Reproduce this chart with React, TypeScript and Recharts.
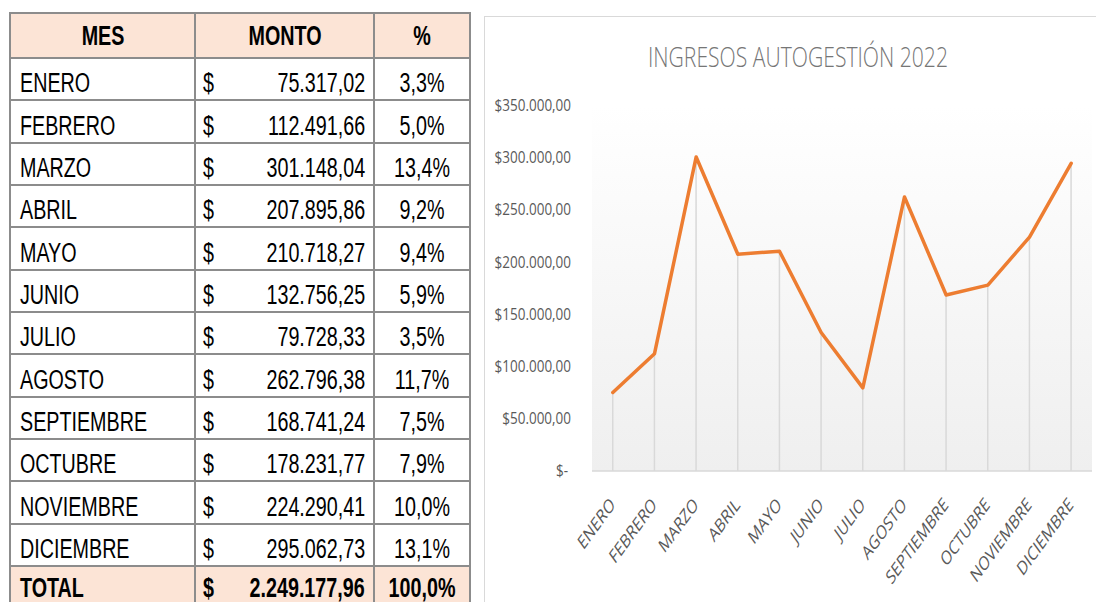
import React from 'react';
import { ComposedChart, Line, Bar, XAxis, YAxis, CartesianGrid } from 'recharts';

const MESES = ['ENERO', 'FEBRERO', 'MARZO', 'ABRIL', 'MAYO', 'JUNIO', 'JULIO', 'AGOSTO', 'SEPTIEMBRE', 'OCTUBRE', 'NOVIEMBRE', 'DICIEMBRE'];
const MONTOS = [75317.02, 112491.66, 301148.04, 207895.86, 210718.27, 132756.25, 79728.33, 262796.38, 168741.24, 178231.77, 224290.41, 295062.73];
const PORCENTAJES = ['3,3%', '5,0%', '13,4%', '9,2%', '9,4%', '5,9%', '3,5%', '11,7%', '7,5%', '7,9%', '10,0%', '13,1%'];
const TOTAL_MONTO = 2249177.96;
const TOTAL_PCT = '100,0%';
const Y_TICKS = [0, 50000, 100000, 150000, 200000, 250000, 300000, 350000];
const HEADERS = ['MES', 'MONTO', '%'];
const TITLE = 'INGRESOS AUTOGESTIÓN 2022';

const fmt = (n: number) => {
  const [i, d] = n.toFixed(2).split('.');
  return i.replace(/\B(?=(\d{3})+(?!\d))/g, '.') + ',' + d;
};

const data = MESES.map((mes, i) => ({ mes, monto: MONTOS[i] }));

const BORDER = '#8c8c8c';
const PEACH = '#fce4d6';
const TFONT = "'Liberation Sans', Arial, sans-serif";
const CFONT = "'Open Sans', sans-serif";
const SX = 0.73;

const cellBase: React.CSSProperties = {
  position: 'relative',
  background: '#fff',
  fontFamily: TFONT,
  fontSize: 27,
  color: '#000',
  whiteSpace: 'nowrap',
  overflow: 'hidden',
};

function Txt({ align, children, off = 0, pad = 0 }: { align: 'left' | 'right' | 'center'; children: React.ReactNode; off?: number; pad?: number }) {
  const s: React.CSSProperties = { position: 'absolute', top: `calc(50% + ${off}px)`, lineHeight: 0.8 };
  if (align === 'left') {
    s.left = pad;
    s.transformOrigin = 'left center';
    s.transform = `translateY(-50%) scaleX(${SX})`;
  } else if (align === 'right') {
    s.right = pad;
    s.transformOrigin = 'right center';
    s.transform = `translateY(-50%) scaleX(${SX})`;
  } else {
    s.left = '50%';
    s.transformOrigin = 'center center';
    s.transform = `translate(-50%,-50%) scaleX(${SX})`;
  }
  return <span style={s}>{children}</span>;
}

function Row({ mes, monto, pct, bold, bg, off = 5 }: { mes: string; monto: number; pct: string; bold?: boolean; bg?: string; off?: number }) {
  const extra: React.CSSProperties = { fontWeight: bold ? 700 : 400, background: bg || '#fff' };
  return (
    <>
      <div style={{ ...cellBase, ...extra }}>
        <Txt align="left" pad={9} off={off}>{mes}</Txt>
      </div>
      <div style={{ ...cellBase, ...extra }}>
        <Txt align="left" pad={7} off={off}>$</Txt>
        <Txt align="right" pad={8} off={off}>{fmt(monto)}</Txt>
      </div>
      <div style={{ ...cellBase, ...extra }}>
        <Txt align="center" off={off}>{pct}</Txt>
      </div>
    </>
  );
}

function Table() {
  return (
    <div
      style={{
        position: 'absolute',
        left: 9,
        top: 12,
        padding: 2,
        paddingBottom: 0,
        background: BORDER,
        display: 'grid',
        gridTemplateColumns: '183px 177px 94px',
        gridTemplateRows: '43px repeat(13, 40.35px)',
        columnGap: 2,
        rowGap: 2,
      }}
    >
      {HEADERS.map((h) => (
        <div key={h} style={{ ...cellBase, background: PEACH, fontWeight: 700 }}>
          <Txt align="center" off={1}>{h}</Txt>
        </div>
      ))}
      {MESES.map((m, i) => (
        <Row key={m} mes={m} monto={MONTOS[i]} pct={PORCENTAJES[i]} />
      ))}
      <Row mes="TOTAL" monto={TOTAL_MONTO} pct={TOTAL_PCT} bold bg={PEACH} off={2} />
    </div>
  );
}

function XTick(props: any) {
  const { x, y, payload } = props;
  return (
    <g transform={`translate(${x + 3},${y + 35}) scale(1,1.38) rotate(-45)`}>
      <text textAnchor="end" fontFamily={CFONT} fontSize={14} fill="#595959">
        {payload.value}
      </text>
    </g>
  );
}

function YTick(props: any) {
  const { x, y, payload } = props;
  const v = payload.value as number;
  return (
    <g transform={`translate(${v === 0 ? x - 3 : x},${y}) scale(1,1.15)`}>
      <text x={0} y={0} dy={4.5} textAnchor="end" fontFamily={CFONT} fontSize={13.5} fill="#595959">
        {v === 0 ? '$-' : '$' + fmt(v)}
      </text>
    </g>
  );
}

export default function App() {
  return (
    <div style={{ position: 'absolute', left: 0, top: 0, width: 1096, height: 602, overflow: 'hidden', background: '#fff' }}>
      <Table />
      <div
        style={{
          position: 'absolute',
          left: 484,
          top: 16,
          width: 700,
          height: 700,
          border: '1px solid #d9d9d9',
          background: '#fff',
        }}
      >
        <ComposedChart width={611} height={585} data={data} margin={{ top: 89, right: 4, bottom: 0, left: 0 }}>
          <defs>
            <linearGradient id="plotBg" x1="0" y1="0" x2="0" y2="1">
              <stop offset="0" stopColor="#ffffff" />
              <stop offset="1" stopColor="#efefef" />
            </linearGradient>
          </defs>
          <CartesianGrid horizontal={false} vertical={false} fill="url(#plotBg)" />
          <XAxis
            dataKey="mes"
            height={131}
            interval={0}
            tickLine={false}
            tickSize={0}
            tickMargin={0}
            axisLine={{ stroke: '#d9d9d9', strokeWidth: 1.5 }}
            tick={<XTick />}
          />
          <YAxis
            width={107}
            domain={[0, 350000]}
            ticks={Y_TICKS}
            interval={0}
            axisLine={false}
            tickLine={false}
            tickSize={0}
            tickMargin={21}
            tick={<YTick />}
          />
          <Bar dataKey="monto" barSize={1.5} fill="#d9d9d9" isAnimationActive={false} />
          <Line
            dataKey="monto"
            type="linear"
            stroke="#ed7d31"
            strokeWidth={3.5}
            strokeLinejoin="round"
            strokeLinecap="round"
            dot={false}
            activeDot={false}
            isAnimationActive={false}
          />
        </ComposedChart>
        <svg width={611} height={80} style={{ position: 'absolute', left: 0, top: 0, pointerEvents: 'none' }}>
          <text
            x={313}
            y={50}
            textAnchor="middle"
            textLength={300}
            lengthAdjust="spacingAndGlyphs"
            fontFamily={CFONT}
            fontWeight={300}
            fontSize={27}
            fill="#767676"
          >
            {TITLE}
          </text>
        </svg>
      </div>
    </div>
  );
}
